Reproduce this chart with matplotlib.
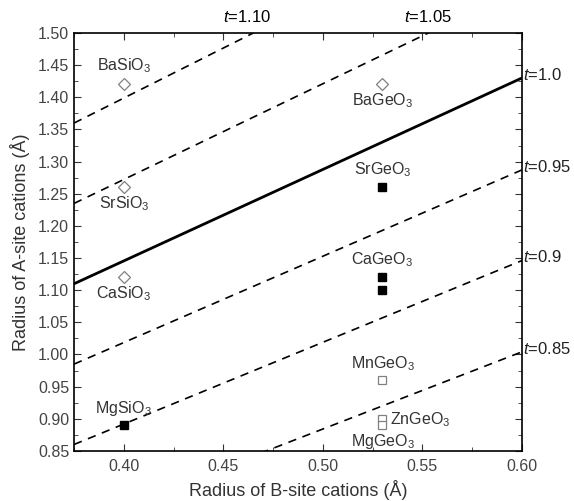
import matplotlib
matplotlib.use("Agg")
import matplotlib.pyplot as plt
from matplotlib.ticker import MultipleLocator

plt.rcParams["font.family"] = ["Liberation Sans", "DejaVu Sans"]
plt.rcParams["mathtext.fontset"] = "custom"
plt.rcParams["mathtext.rm"] = "Liberation Sans"
plt.rcParams["mathtext.it"] = "Liberation Sans:italic"

# tolerance-factor lines: y read at the left (x=0.375) and right (x=0.6) edges
t_values = ["1.10", "1.05", "1.0", "0.95", "0.9", "0.85"]
line_x = [0.375, 0.6]
line_y_left = [1.36, 1.235, 1.11, 0.985, 0.86, 0.734]
line_y_right = [1.71, 1.57, 1.43, 1.287, 1.146, 1.004]

# compounds
open_names = ["BaSiO$_3$", "SrSiO$_3$", "CaSiO$_3$", "BaGeO$_3$"]
open_x = [0.40, 0.40, 0.40, 0.53]
open_y = [1.42, 1.26, 1.12, 1.42]

filled_x = [0.40, 0.53, 0.53, 0.53]
filled_y = [0.89, 1.26, 1.12, 1.10]

open_sq_x = [0.53, 0.53, 0.53]
open_sq_y = [0.96, 0.90, 0.89]

fig = plt.figure(figsize=(5.74, 5.01), dpi=100)
ax = fig.add_axes([0.129, 0.1, 0.78, 0.834])

for t, yl, yr in zip(t_values, line_y_left, line_y_right):
    if t == "1.0":
        ax.plot(line_x, [yl, yr], color="black", lw=2.0)
    else:
        ax.plot(line_x, [yl, yr], color="black", lw=1.2, dashes=(5, 4))

ax.plot(open_x, open_y, "D", ms=6, mfc="white", mec="#808080", mew=0.9, ls="none")
ax.plot(filled_x, filled_y, "s", ms=5.5, color="black", ls="none")
ax.plot(open_sq_x, open_sq_y, "s", ms=5.5, mfc="white", mec="#808080", mew=0.9, ls="none")

fs = 11.5
labels = [
    ("BaSiO$_3$", 0.40, 1.434, "center", "bottom"),
    ("SrSiO$_3$", 0.40, 1.249, "center", "top"),
    ("CaSiO$_3$", 0.40, 1.109, "center", "top"),
    ("MgSiO$_3$", 0.40, 0.901, "center", "bottom"),
    ("BaGeO$_3$", 0.53, 1.409, "center", "top"),
    ("SrGeO$_3$", 0.53, 1.273, "center", "bottom"),
    ("CaGeO$_3$", 0.53, 1.133, "center", "bottom"),
    ("MnGeO$_3$", 0.53, 0.971, "center", "bottom"),
    ("ZnGeO$_3$", 0.534, 0.898, "left", "center"),
    ("MgGeO$_3$", 0.53, 0.880, "center", "top"),
]
for txt, x, y, ha, va in labels:
    ax.text(x, y, txt, fontsize=fs, ha=ha, va=va, color="#333333")

# t labels on the right edge
tfs = 12
for t, yr in zip(t_values[2:], line_y_right[2:]):
    ax.text(0.6005, yr + 0.005, f"$t$={t}", fontsize=tfs, ha="left", va="center",
            color="#222222", clip_on=False)
# t labels above the top edge
ax.text(0.462, 1.512, "$t$=1.10", fontsize=tfs, ha="center", va="bottom", clip_on=False)
ax.text(0.553, 1.512, "$t$=1.05", fontsize=tfs, ha="center", va="bottom", clip_on=False)

ax.set_xlim(0.375, 0.6)
ax.set_ylim(0.85, 1.50)
ax.xaxis.set_major_locator(MultipleLocator(0.05))
ax.xaxis.set_minor_locator(MultipleLocator(0.025))
ax.yaxis.set_major_locator(MultipleLocator(0.05))
ax.yaxis.set_minor_locator(MultipleLocator(0.025))
ax.xaxis.set_major_formatter(plt.FormatStrFormatter("%.2f"))
ax.yaxis.set_major_formatter(plt.FormatStrFormatter("%.2f"))
ax.tick_params(which="both", direction="in", top=True, right=True, labelsize=11.5,
               colors="#333333", labelcolor="#444444")
ax.tick_params(which="major", length=5)
ax.tick_params(which="minor", length=3)
ax.tick_params(axis="x", pad=6)
for s in ax.spines.values():
    s.set_linewidth(1.2)

ax.set_xlabel("Radius of B-site cations (Å)", fontsize=13, color="#333333", labelpad=4)
ax.set_ylabel("Radius of A-site cations (Å)", fontsize=13, color="#333333", labelpad=6)

fig.savefig("out.png", dpi=100)
